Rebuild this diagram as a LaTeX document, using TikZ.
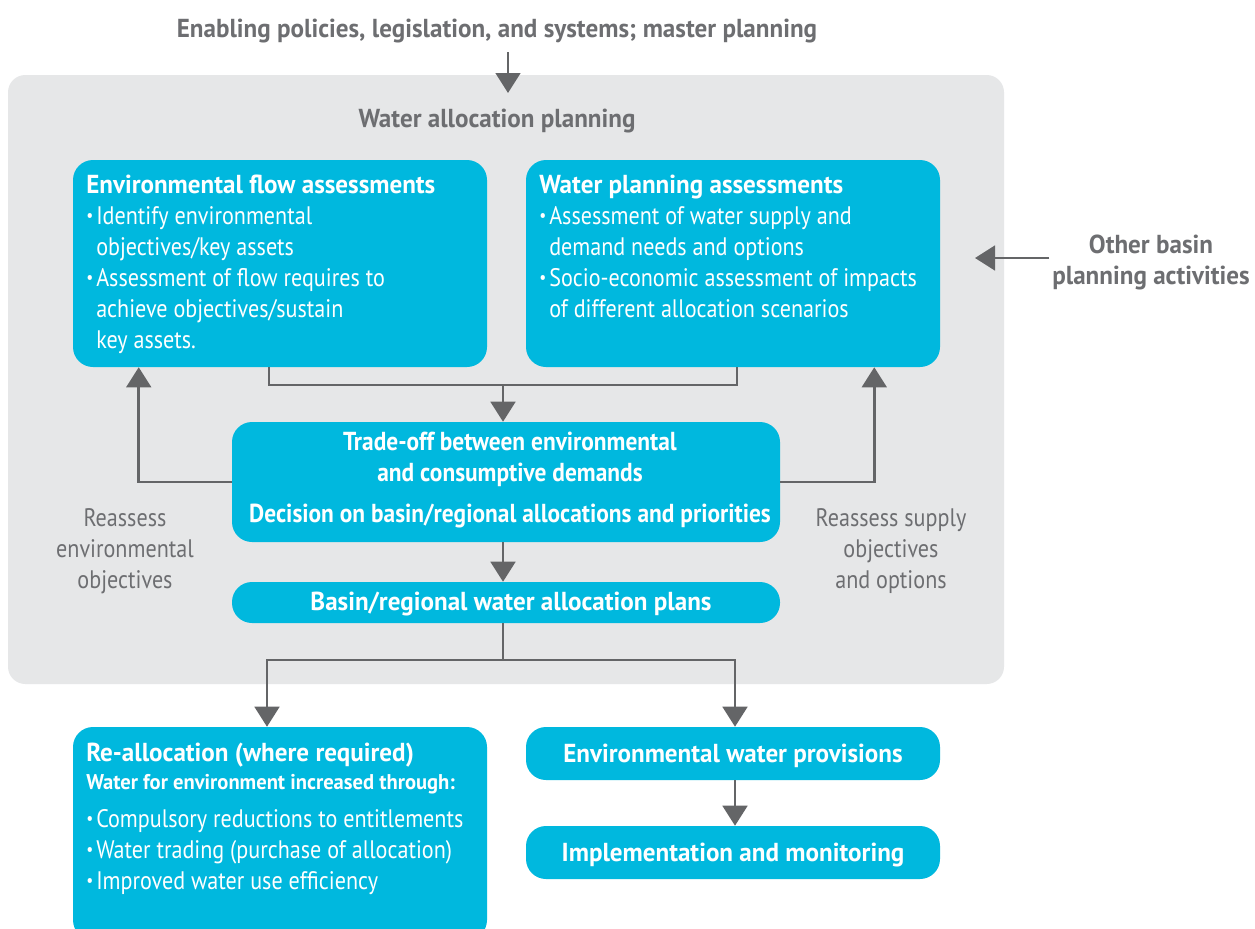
\documentclass[tikz,border=0pt]{standalone}
\usepackage{fontspec}
\setmainfont{PT Sans}[FakeStretch=0.873]
\newfontfamily\hbfam{PT Sans}[FakeStretch=0.965]
\newfontfamily\htfam{PT Sans}[FakeStretch=0.9]
\newcommand{\hbf}{\hbfam\bfseries}
\newcommand{\htf}{\htfam\bfseries}
\usetikzlibrary{arrows.meta,fit}
\definecolor{cyanbox}{HTML}{00B8DE}
\definecolor{panelgray}{HTML}{E6E7E8}
\definecolor{txtgray}{HTML}{6D6E71}
\definecolor{arrgray}{HTML}{646567}
\newcommand{\bl}{\makebox[7.5pt][l]{\raisebox{0.12em}{\scalebox{0.7}{\textbullet}}}}
\newcommand{\ind}{\hspace*{7.5pt}}
\begin{document}
\begin{tikzpicture}[x=0.75pt,y=-0.75pt,
  box/.style={fill=cyanbox, rounded corners=15pt, inner sep=0pt, draw=none},
  panel/.style={fill=panelgray, rounded corners=13pt, inner sep=0pt, draw=none},
  conn/.style={draw=arrgray, line width=2pt},
  arr/.style={conn, -{Triangle[width=18.5pt,length=15pt]}},
  wtxt/.style={text=white, inner sep=0pt, font=\fontsize{19}{23.25}\selectfont},
  whead/.style={text=white, inner sep=0pt, font=\hbf\fontsize{19.5}{23.25}\selectfont},
  gtxt/.style={text=txtgray, inner sep=0pt, align=center, font=\fontsize{19}{23.25}\selectfont},
  ghead/.style={text=txtgray, inner sep=0pt, align=center, font=\hbf\fontsize{19.5}{23.25}\selectfont}
]
\useasboundingbox (0,0) rectangle (1255,928);
\fill[white] (0,0) rectangle (1255,928);

% panel
\node[panel, fit={(8,75) (1004,684)}] (panel) {};

% titles
\node[ghead] (title) at (497,31) {Enabling policies, legislation, and systems; master planning};
\node[ghead] (wap) at (497,121) {Water allocation planning};
\node[ghead] (other) at (1151,262) {Other basin\\planning activities};

% boxes
\node[box, fit={(73,160) (487,367)}] (efa) {};
\node[box, fit={(526,160) (940,367)}] (wpa) {};
\node[box, fit={(232,422) (780,542)}] (trade) {};
\node[box, fit={(232,582) (780,623)}] (plans) {};
\node[box, fit={(73,727) (487,940)}] (realloc) {};
\node[box, fit={(526,727) (940,780)}] (ewp) {};
\node[box, fit={(526,826) (940,879)}] (impl) {};

% box texts
\node[wtxt, align=left, anchor=north west] (efaT) at (86,175) {%
{\hbf\fontsize{19.5}{23.25}\selectfont Environmental flow assessments}\\
\bl Identify environmental\\
\ind objectives/key assets\\
\bl Assessment of flow requires to\\
\ind achieve objectives/sustain\\
\ind key assets.};
\node[wtxt, align=left, anchor=north west] (wpaT) at (539,175) {%
{\hbf\fontsize{19.5}{23.25}\selectfont Water planning assessments}\\
\bl Assessment of water supply and\\
\ind demand needs and options\\
\bl Socio-economic assessment of impacts\\
\ind of different allocation scenarios};
\node[whead, font=\htf\fontsize{19.5}{23.25}\selectfont, align=center] (tradeT) at (510,480) {%
Trade-off between environmental\\
and consumptive demands\\[7.5pt]
Decision on basin/regional allocations and priorities};
\node[whead] (plansT) at (511,604) {Basin/regional water allocation plans};
\node[wtxt, align=left, anchor=north west] (reallocT) at (86,743) {%
{\hbf\fontsize{19.5}{23.25}\selectfont Re-allocation (where required)}\\[-2.25pt]
{\hbf\fontsize{16}{23.25}\selectfont Water for environment increased through:}\\[5.25pt]
\bl Compulsory reductions to entitlements\\
\bl Water trading (purchase of allocation)\\
\bl Improved water use efficiency};
\node[whead] (ewpT) at (733,756) {Environmental water provisions};
\node[whead] (implT) at (733,855) {Implementation and monitoring};

% side labels
\node[gtxt] (reL) at (125,551.5) {Reassess\\environmental\\objectives};
\node[gtxt] (reR) at (891,551.5) {Reassess supply\\objectives\\and options};

% coordinates
\coordinate (pinS) at (508,52);
\coordinate (pinE) at (508,93);
\coordinate (junc) at (503,385);
\coordinate (split) at (503,660);
\coordinate (otherTip) at (975,258);

% connectors
\draw[arr] (pinS) -- (pinE);
\draw[conn] ([xshift=-8.25pt]efa.south) |- (junc) -| ([xshift=3pt]wpa.south);
\draw[arr] (junc) -- (junc |- trade.north);
\draw[arr] (trade.west) -| ([xshift=49.5pt]efa.south west);
\draw[arr] (trade.east) -| ([xshift=-49.5pt]wpa.south east);
\draw[arr] (trade.south -| junc) -- (plans.north -| junc);
\draw[conn] (plans.south -| junc) -- (split);
\draw[arr] (split) -| ([xshift=-9.75pt]realloc.north);
\draw[arr] (split) -| ([xshift=1.5pt]ewp.north);
\draw[arr] ([xshift=1.5pt]ewp.south) -- ([xshift=1.5pt]impl.north);
\draw[arr] ([xshift=-2pt]other.west |- otherTip) -- (otherTip);
\end{tikzpicture}
\end{document}
